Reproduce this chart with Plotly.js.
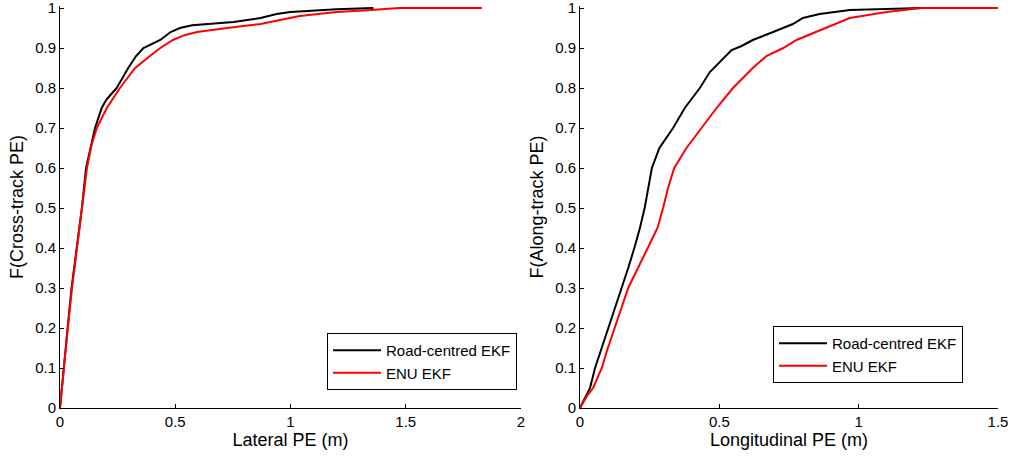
<!DOCTYPE html>
<html>
<head>
<meta charset="utf-8">
<script src="https://cdn.plot.ly/plotly-3.0.1.min.js"></script>
<style>html,body{margin:0;padding:0;background:#fff;}#chart{width:1013px;height:458px;}</style>
</head>
<body>
<div id="chart"></div>
<script>
// Left panel: Cross-track (lateral) PE CDF
const latRoadX = [0,0.015,0.033,0.05,0.072,0.095,0.113,0.135,0.152,0.181,0.2,0.215,0.246,0.296,0.33,0.362,0.4,0.435,0.48,0.52,0.573,0.65,0.753,0.87,0.94,1.0,1.1,1.2,1.36];
const latRoadY = [0,0.1,0.2,0.3,0.4,0.5,0.6,0.66,0.7,0.75,0.77,0.78,0.8,0.85,0.88,0.9,0.91,0.92,0.94,0.95,0.957,0.96,0.965,0.975,0.985,0.99,0.994,0.997,1.0];
const latEnuX = [0,0.016,0.034,0.052,0.074,0.098,0.117,0.138,0.16,0.203,0.26,0.326,0.36,0.39,0.435,0.49,0.54,0.595,0.725,0.87,1.04,1.2,1.35,1.47,1.83];
const latEnuY = [0,0.1,0.2,0.3,0.4,0.5,0.6,0.66,0.7,0.75,0.8,0.85,0.867,0.88,0.9,0.92,0.932,0.94,0.95,0.96,0.98,0.99,0.995,1.0,1.0];

// Right panel: Along-track (longitudinal) PE CDF
const lonRoadX = [0,0.02,0.036,0.054,0.078,0.1,0.125,0.149,0.173,0.195,0.215,0.232,0.245,0.258,0.285,0.334,0.376,0.43,0.466,0.508,0.544,0.58,0.62,0.693,0.764,0.8,0.86,0.968,1.1,1.225,1.35];
const lonRoadY = [0,0.03,0.05,0.1,0.15,0.2,0.25,0.3,0.35,0.4,0.45,0.5,0.55,0.6,0.65,0.7,0.75,0.8,0.84,0.87,0.895,0.905,0.92,0.94,0.96,0.975,0.985,0.995,0.998,1.0,1.0];
const lonEnuX = [0,0.025,0.047,0.078,0.1,0.125,0.149,0.173,0.208,0.244,0.278,0.298,0.316,0.338,0.382,0.436,0.49,0.549,0.62,0.669,0.729,0.777,0.848,0.968,1.1,1.225,1.5];
const lonEnuY = [0,0.03,0.05,0.1,0.15,0.2,0.25,0.3,0.35,0.4,0.45,0.5,0.55,0.6,0.65,0.7,0.75,0.8,0.85,0.88,0.9,0.92,0.94,0.975,0.99,1.0,1.0];

const seriesNames = ['Road-centred EKF', 'ENU EKF'];
const xTitles = ['Lateral PE (m)', 'Longitudinal PE (m)'];
const yTitles = ['F(Cross-track PE)', 'F(Along-track PE)'];
const yTickVals = [0,0.1,0.2,0.3,0.4,0.5,0.6,0.7,0.8,0.9,1];
const yTickText = ['0','0.1','0.2','0.3','0.4','0.5','0.6','0.7','0.8','0.9','1'];
const xTickValsLat = [0,0.5,1,1.5,2];
const xTickTextLat = ['0','0.5','1','1.5','2'];
const xTickValsLon = [0,0.5,1,1.5];
const xTickTextLon = ['0','0.5','1','1.5'];

const W = 1013, H = 458;
const traces = [
  {x: latRoadX, y: latRoadY, name: seriesNames[0], xaxis:'x', yaxis:'y', legend:'legend', line:{color:'#000000', width:2}},
  {x: latEnuX, y: latEnuY, name: seriesNames[1], xaxis:'x', yaxis:'y', legend:'legend', line:{color:'#ff0000', width:2}},
  {x: lonRoadX, y: lonRoadY, name: seriesNames[0], xaxis:'x2', yaxis:'y2', legend:'legend2', line:{color:'#000000', width:2}},
  {x: lonEnuX, y: lonEnuY, name: seriesNames[1], xaxis:'x2', yaxis:'y2', legend:'legend2', line:{color:'#ff0000', width:2}}
].map(t => Object.assign({type:'scatter', mode:'lines', hoverinfo:'skip'}, t));

const font = {family:'"Liberation Sans", Arial, sans-serif', color:'#000', size:15};
function xax(range, domain, title, tv, tt) {
  return {domain: domain, range: range, tickmode:'array', tickvals: tv, ticktext: tt, showgrid:false, zeroline:false,
    showline:true, linecolor:'#000', linewidth:1, ticks:'inside', ticklen:4, tickcolor:'#000', ticklabeloverflow:'allow',
    tickfont:{size:15}, title:{text:title, font:{size:18}, standoff:4}, automargin:false, fixedrange:true};
}
function yax(domain, anchor, title) {
  return {domain: domain, range:[0,1.005], tickmode:'array', tickvals: yTickVals, ticktext: yTickText, showgrid:false, zeroline:false, anchor: anchor,
    showline:true, linecolor:'#000', linewidth:1, ticks:'inside', ticklen:4, tickcolor:'#000', ticklabeloverflow:'allow',
    tickfont:{size:15}, title:{text:title, font:{size:18}, standoff:6}, automargin:false, fixedrange:true};
}
const yDom = [(H-408)/H, (H-6)/H];
const layout = {
  width: W, height: H,
  margin:{l:0, r:0, t:0, b:0},
  paper_bgcolor:'#fff', plot_bgcolor:'#fff',
  font: font,
  showlegend: true,
  xaxis: Object.assign(xax([0,2], [60/W, 521/W], xTitles[0], xTickValsLat, xTickTextLat), {anchor:'y'}),
  yaxis: yax(yDom, 'x', yTitles[0]),
  xaxis2: Object.assign(xax([0,1.5], [580/W, 998/W], xTitles[1], xTickValsLon, xTickTextLon), {anchor:'y2'}),
  yaxis2: yax(yDom, 'x2', yTitles[1]),
  legend: {x: 517/W, xanchor:'right', y:(H-390)/H, yanchor:'bottom', bgcolor:'#fff', bordercolor:'#000', borderwidth:1, font:{size:15}, tracegroupgap:0, itemwidth:48},
  legend2: {x: 963/W, xanchor:'right', y:(H-383)/H, yanchor:'bottom', bgcolor:'#fff', bordercolor:'#000', borderwidth:1, font:{size:15}, tracegroupgap:0, itemwidth:48}
};
Plotly.newPlot('chart', traces, layout, {staticPlot:true, displayModeBar:false});
</script>
</body>
</html>
